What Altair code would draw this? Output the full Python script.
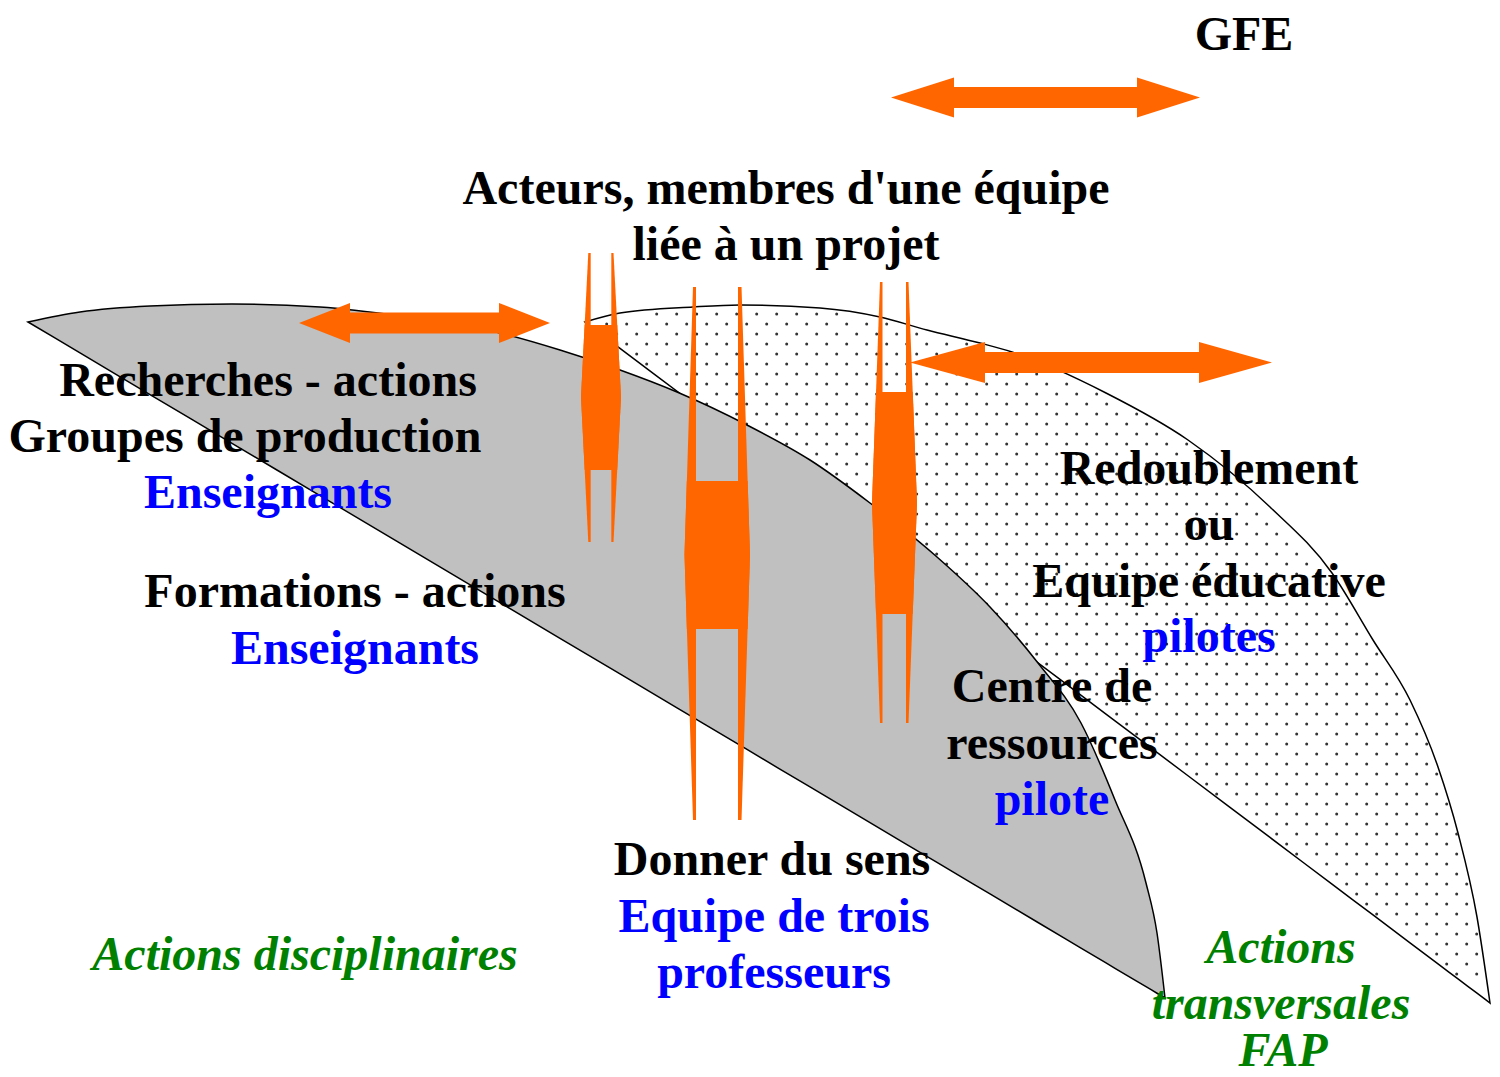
import altair as alt
import numpy as np
import pandas as pd

# ---------------- shapes (pixel coordinates) ----------------
# grey lens  ("Actions disciplinaires")
gray_top_x = [28, 80, 150, 232, 320, 400, 500, 560, 620, 677, 747, 810, 870, 937, 990, 1038, 1081, 1115, 1146, 1157, 1165]
gray_top_y = [322, 312, 306, 304, 307, 316, 333, 350, 370, 392, 425, 460, 503, 557, 607, 663, 723, 800, 883, 933, 998]
gray_low_x = [28, 1165]
gray_low_y = [322, 998]

# dotted lens ("Actions transversales")
dot_top_x = [585, 620, 693, 740, 820, 880, 927, 980, 1012, 1106, 1188, 1270, 1332, 1373, 1410, 1438, 1458, 1477, 1490]
dot_top_y = [322, 313, 307, 305, 308, 317, 330, 343, 352, 393, 440, 507, 573, 640, 700, 767, 833, 917, 1003]
dot_low_x = [585, 1490]
dot_low_y = [322, 1003]

# double arrows
arrow_ids = ["GFE", "Recherches", "Redoublement"]
arrow_cy = [97.5, 323, 362.5]
arrow_tip_l = [891, 299, 910]
arrow_base_l = [954, 350, 985]
arrow_base_r = [1137, 499, 1199]
arrow_tip_r = [1200, 550, 1272]
arrow_head_half = [20, 20, 20.5]
arrow_shaft_half = [10.5, 10.5, 10.5]

# vertical "bridges"
bridge_ids = ["b1", "b2", "b3"]
bridge_top = [253, 287, 282]
bridge_bot = [542, 820, 723]
bridge_mid = [397, 555, 503]
block_top = [325, 481, 392]
block_bot = [470, 629, 614]
inner_l = [590.7, 696, 882.5]
inner_r = [611.3, 738, 906]
outer_l_end = [588.3, 693, 880]
outer_l_mid = [581, 684.5, 872]
outer_r_end = [613.5, 741.5, 908.5]
outer_r_mid = [621, 750, 917]

# texts
bold_text = ["GFE", "Acteurs, membres d'une équipe", "liée à un projet",
             "Recherches - actions", "Groupes de production", "Enseignants",
             "Formations - actions", "Enseignants",
             "Redoublement", "ou", "Equipe éducative", "pilotes",
             "Centre de", "ressources", "pilote",
             "Donner du sens", "Equipe de trois", "professeurs"]
bold_x = [1244, 786, 786, 268, 245, 268, 355, 355, 1209, 1209, 1209, 1209, 1052, 1052, 1052, 772, 774, 774]
bold_y = [50, 204, 260, 396, 452, 508, 607, 664, 484, 540, 597, 652, 702, 759, 815, 875, 932, 988]
bold_col = ["black", "black", "black", "black", "black", "#0000FF", "black", "#0000FF",
            "black", "black", "black", "#0000FF", "black", "black", "#0000FF",
            "black", "#0000FF", "#0000FF"]

ital_text = ["Actions disciplinaires", "Actions", "transversales", "FAP"]
ital_x = [305, 1281, 1281, 1283]
ital_y = [970, 963, 1019, 1066]

ORANGE = "#FF6600"

# ---------------- tables ----------------
gx = np.array(gray_top_x, float)
gray_df = pd.DataFrame({"x": gx, "y": gray_top_y, "y2": np.interp(gx, gray_low_x, gray_low_y)})

dx = np.array(dot_top_x, float)
dotlens_df = pd.DataFrame({"x": dx, "y": dot_top_y, "y2": np.interp(dx, dot_low_x, dot_low_y)})

pts = []
for k, yy in enumerate(np.arange(304, 1004, 10.0)):
    off = 16.7 if (k % 2 == 1) else 6.7
    for xx in np.arange(580 + off, 1495, 20.0):
        if dot_top_x[0] < xx < dot_top_x[-1]:
            top = np.interp(xx, dot_top_x, dot_top_y)
            low = np.interp(xx, dot_low_x, dot_low_y)
            if top + 3 < yy < low - 3:
                pts.append((xx, yy))
dots_df = pd.DataFrame(pts, columns=["x", "y"])

arows = []
for i, a in enumerate(arrow_ids):
    c, h, s = arrow_cy[i], arrow_head_half[i], arrow_shaft_half[i]
    verts = [(arrow_tip_l[i], c, c),
             (arrow_base_l[i], c - h, c + h),
             (arrow_base_l[i] + 0.01, c - s, c + s),
             (arrow_base_r[i] - 0.01, c - s, c + s),
             (arrow_base_r[i], c - h, c + h),
             (arrow_tip_r[i], c, c)]
    for j, (xx, y1, y2) in enumerate(verts):
        arows.append({"id": a, "o": j, "x": xx, "y": y1, "y2": y2})
arrow_df = pd.DataFrame(arows)

brows = []
for i, b in enumerate(bridge_ids):
    ys = [bridge_top[i], bridge_mid[i], bridge_bot[i]]
    ol = [outer_l_end[i], outer_l_mid[i], outer_l_end[i]]
    orr = [outer_r_end[i], outer_r_mid[i], outer_r_end[i]]
    for yy, a in zip(ys, ol):
        brows.append({"id": b + "L", "y": yy, "x": a, "x2": inner_l[i]})
    for yy, a in zip(ys, orr):
        brows.append({"id": b + "R", "y": yy, "x": inner_r[i], "x2": a})
    for yy in [block_top[i], bridge_mid[i], block_bot[i]]:
        brows.append({"id": b + "B", "y": yy,
                      "x": float(np.interp(yy, ys, ol)),
                      "x2": float(np.interp(yy, ys, orr))})
bridge_df = pd.DataFrame(brows)

bold_df = pd.DataFrame({"t": bold_text, "x": bold_x, "y": bold_y, "c": bold_col})
ital_df = pd.DataFrame({"t": ital_text, "x": ital_x, "y": ital_y})

# ---------------- chart ----------------
XS = alt.Scale(domain=[8, 1492], nice=False, zero=False)
YS = alt.Scale(domain=[8, 1069], reverse=True, nice=False, zero=False)


def X(f="x", **kw):
    return alt.X(f"{f}:Q", scale=XS, axis=None, **kw)


def Y(f="y", **kw):
    return alt.Y(f"{f}:Q", scale=YS, axis=None, **kw)


dot_lens = alt.Chart(dotlens_df).mark_area(fill="white", stroke="black", strokeWidth=1.5,
                                           interpolate="monotone").encode(
    x=X(), y=Y(stack=None), y2="y2:Q")
dots = alt.Chart(dots_df).mark_circle(size=9, color="#333333", opacity=1).encode(x=X(), y=Y())
gray_lens = alt.Chart(gray_df).mark_area(fill="#C0C0C0", stroke="black", strokeWidth=1.5,
                                         interpolate="monotone").encode(
    x=X(), y=Y(stack=None), y2="y2:Q")
arrows = alt.Chart(arrow_df).mark_area(color=ORANGE).encode(
    x=X(), y=Y(stack=None), y2="y2:Q", detail="id:N")
bridges = alt.Chart(bridge_df).mark_area(color=ORANGE, orient="horizontal").encode(
    y=Y(), x=X(stack=None), x2="x2:Q", detail="id:N")
bold = alt.Chart(bold_df).mark_text(font="Liberation Serif", fontWeight="bold", fontSize=48,
                                    align="center", baseline="alphabetic").encode(
    x=X(), y=Y(), text="t:N", color=alt.Color("c:N", scale=None))
ital = alt.Chart(ital_df).mark_text(font="Liberation Serif", fontWeight="bold", fontStyle="italic",
                                    fontSize=48, align="center", baseline="alphabetic",
                                    color="#008000").encode(x=X(), y=Y(), text="t:N")

chart = alt.layer(dot_lens, dots, gray_lens, arrows, bridges, bold, ital).properties(
    width=1484, height=1061, padding=0, autosize="none"
).configure_view(stroke=None)

chart.save("out.html", embed_options={"renderer": "svg", "actions": False})
